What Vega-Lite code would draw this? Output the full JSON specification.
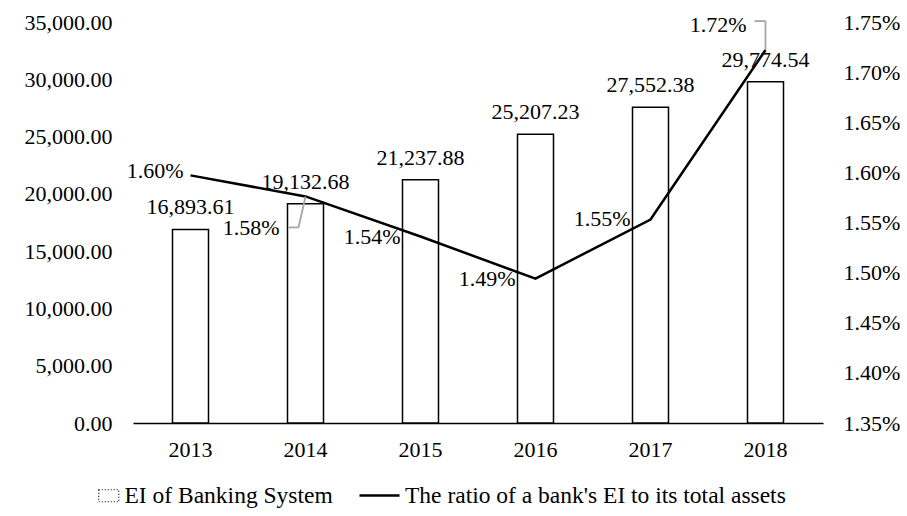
{
  "$schema": "https://vega.github.io/schema/vega-lite/v6.json",
  "width": 690,
  "height": 401,
  "autosize": {"type": "none"},
  "padding": {"left": 133, "top": 22, "right": 84, "bottom": 93},
  "background": "white",
  "config": {
    "font": "Liberation Serif",
    "view": {"stroke": null},
    "axis": {"grid": false, "ticks": false, "tickSize": 0, "labelFontSize": 22, "labelColor": "black", "labelFont": "Liberation Serif"},
    "legend": {"labelFont": "Liberation Serif", "labelFontSize": 23.5, "labelColor": "black", "labelLimit": 0}
  },
  "data": {
    "values": [
      {"year": "2013", "ei": 16893.61, "ratio": 0.01597},
      {"year": "2014", "ei": 19132.68, "ratio": 0.01576},
      {"year": "2015", "ei": 21237.88, "ratio": 0.01536},
      {"year": "2016", "ei": 25207.23, "ratio": 0.01494},
      {"year": "2017", "ei": 27552.38, "ratio": 0.01553},
      {"year": "2018", "ei": 29774.54, "ratio": 0.01722}
    ]
  },
  "encoding": {
    "x": {
      "field": "year",
      "type": "ordinal",
      "scale": {"paddingInner": 0.687, "paddingOuter": 0.3435},
      "axis": {"title": null, "labelAngle": 0, "domainColor": "black", "domainWidth": 1.5, "labelPadding": 16}
    }
  },
  "layer": [
    {
      "encoding": {
        "y": {
          "field": "ei",
          "type": "quantitative",
          "scale": {"domain": [0, 35000]},
          "axis": {"title": null, "orient": "left", "domain": false, "values": [0, 5000, 10000, 15000, 20000, 25000, 30000, 35000], "format": ",.2f", "labelPadding": 21}
        }
      },
      "layer": [
        {
          "mark": {"type": "bar", "stroke": "black", "strokeWidth": 1.5},
          "encoding": {
            "fill": {
              "datum": "EI of Banking System",
              "scale": {"range": ["white"]},
              "legend": {
                "orient": "none", "legendX": -36, "legendY": 462, "title": null,
                "symbolType": "M-1,-0.6H1V0.6H-1Z", "symbolSize": 400,
                "symbolStrokeColor": "black", "symbolStrokeWidth": 1.2, "symbolDash": [1, 2],
                "labelOffset": 4
              }
            }
          }
        },
        {
          "mark": {"type": "text", "baseline": "middle", "dy": -22, "fontSize": 22, "color": "black"},
          "encoding": {"text": {"field": "ei", "type": "quantitative", "format": ",.2f"}}
        }
      ]
    },
    {
      "encoding": {
        "y": {
          "field": "ratio",
          "type": "quantitative",
          "scale": {"domain": [0.0135, 0.0175], "zero": false},
          "axis": {"title": null, "orient": "right", "domain": false, "values": [0.0135, 0.014, 0.0145, 0.015, 0.0155, 0.016, 0.0165, 0.017, 0.0175], "format": ".2%", "labelPadding": 20}
        }
      },
      "layer": [
        {
          "mark": {"type": "line", "strokeWidth": 2.5},
          "encoding": {
            "stroke": {
              "datum": "The ratio of a bank's EI to its total assets",
              "scale": {"range": ["black"]},
              "legend": {
                "orient": "none", "legendX": 225, "legendY": 452, "title": null,
                "symbolType": "stroke", "symbolSize": 1600, "symbolStrokeWidth": 2.5,
                "labelOffset": 4
              }
            }
          }
        },
        {
          "transform": [{"filter": "datum.year == '2014'"}],
          "mark": {"type": "rule", "color": "#a6a6a6", "strokeWidth": 1.8, "x2Offset": -7, "y2Offset": 31},
          "encoding": {"x2": {"field": "year"}, "y2": {"field": "ratio"}}
        },
        {
          "transform": [{"filter": "datum.year == '2014'"}],
          "mark": {"type": "rule", "color": "#a6a6a6", "strokeWidth": 1.8, "xOffset": -7, "yOffset": 31, "x2Offset": -17, "y2Offset": 31},
          "encoding": {"x2": {"field": "year"}, "y2": {"field": "ratio"}}
        },
        {
          "transform": [{"filter": "datum.year == '2018'"}],
          "mark": {"type": "rule", "color": "#a6a6a6", "strokeWidth": 1.8, "y2Offset": -29},
          "encoding": {"x2": {"field": "year"}, "y2": {"field": "ratio"}}
        },
        {
          "transform": [{"filter": "datum.year == '2018'"}],
          "mark": {"type": "rule", "color": "#a6a6a6", "strokeWidth": 1.8, "yOffset": -29, "x2Offset": -11, "y2Offset": -29},
          "encoding": {"x2": {"field": "year"}, "y2": {"field": "ratio"}}
        },
        {
          "transform": [{"filter": "datum.year == '2015' || datum.year == '2016' || datum.year == '2017'"}],
          "mark": {"type": "text", "align": "right", "baseline": "middle", "dx": -20, "dy": 0, "fontSize": 22, "color": "black"},
          "encoding": {"text": {"field": "ratio", "type": "quantitative", "format": ".2%"}}
        },
        {
          "transform": [{"filter": "datum.year == '2013'"}],
          "mark": {"type": "text", "align": "right", "baseline": "middle", "dx": -7, "dy": -4, "fontSize": 22, "color": "black"},
          "encoding": {"text": {"field": "ratio", "type": "quantitative", "format": ".2%"}}
        },
        {
          "transform": [{"filter": "datum.year == '2014'"}],
          "mark": {"type": "text", "align": "right", "baseline": "middle", "dx": -26, "dy": 32, "fontSize": 22, "color": "black"},
          "encoding": {"text": {"field": "ratio", "type": "quantitative", "format": ".2%"}}
        },
        {
          "transform": [{"filter": "datum.year == '2018'"}],
          "mark": {"type": "text", "align": "right", "baseline": "middle", "dx": -19, "dy": -25, "fontSize": 22, "color": "black"},
          "encoding": {"text": {"field": "ratio", "type": "quantitative", "format": ".2%"}}
        }
      ]
    }
  ],
  "resolve": {"scale": {"y": "independent", "fill": "independent", "stroke": "independent"}}
}
